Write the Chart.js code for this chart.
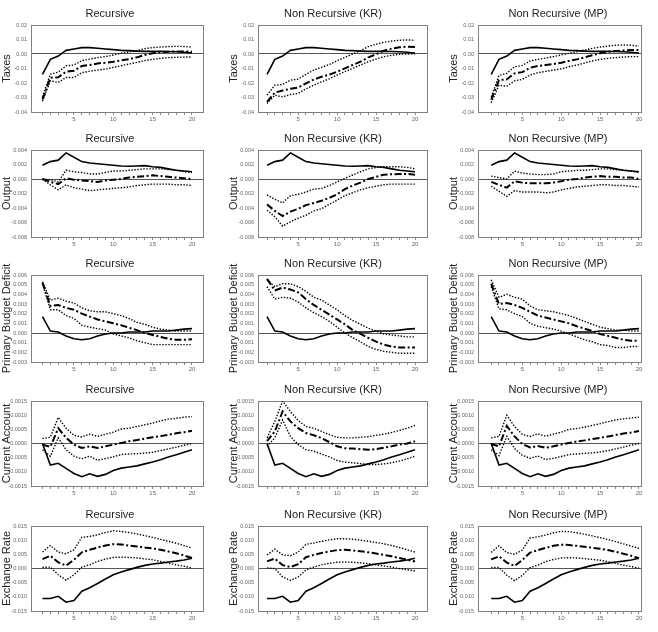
<!DOCTYPE html>
<html>
<head>
<meta charset="utf-8">
<script src="https://cdn.jsdelivr.net/npm/chart.js@4.4.1/dist/chart.umd.min.js"></script>
<style>
  body { margin: 0; background: #fff; }
  #sheet { position: relative; width: 658px; height: 632px; overflow: hidden; }
  #sheet canvas { position: absolute; }
</style>
</head>
<body>
<div id="sheet"></div>
<script>
const periods = [1, 2, 3, 4, 5, 6, 7, 8, 9, 10, 11, 12, 13, 14, 15, 16, 17, 18, 19, 20];
const columnTitles = ['Recursive', 'Non Recursive (KR)', 'Non Recursive (MP)'];

// Taxes
const taxesBase = [-0.014, -0.0037, -0.0014, 0.0025, 0.0035, 0.0044, 0.0044, 0.004, 0.0035, 0.003, 0.0025, 0.0023, 0.002, 0.0018, 0.0018, 0.0018, 0.0017, 0.0016, 0.0012, 0.0007];
const taxesRecMid = [-0.0314, -0.0164, -0.016, -0.0122, -0.0115, -0.0083, -0.0076, -0.0065, -0.006, -0.0053, -0.0044, -0.0035, -0.0023, -0.0007, 0.0005, 0.0012, 0.0016, 0.0018, 0.0018, 0.0016];
const taxesRecHi = [-0.0296, -0.0139, -0.0125, -0.0081, -0.0076, -0.0046, -0.0035, -0.0025, -0.0018, -0.0007, 0.0005, 0.0014, 0.0023, 0.0037, 0.0044, 0.0048, 0.0051, 0.0053, 0.0052, 0.0048];
const taxesRecLo = [-0.0326, -0.0185, -0.0196, -0.0162, -0.0162, -0.0129, -0.0118, -0.0111, -0.0104, -0.0092, -0.0081, -0.0069, -0.0058, -0.0046, -0.0037, -0.003, -0.0025, -0.0023, -0.0021, -0.0021];
const taxesKrMid = [-0.033, -0.0266, -0.0252, -0.024, -0.0231, -0.0203, -0.0176, -0.0157, -0.0143, -0.0122, -0.0099, -0.0076, -0.0053, -0.0023, -0.0002, 0.0023, 0.0037, 0.0046, 0.0051, 0.0048];
const taxesKrHi = [-0.0284, -0.0215, -0.021, -0.018, -0.0173, -0.0141, -0.0111, -0.0092, -0.0072, -0.0046, -0.0023, 0, 0.0023, 0.0051, 0.0067, 0.0081, 0.009, 0.0095, 0.0097, 0.0095];
const taxesKrLo = [-0.0342, -0.0284, -0.0296, -0.0279, -0.0272, -0.024, -0.0215, -0.0192, -0.0171, -0.0145, -0.0122, -0.0099, -0.0076, -0.0053, -0.0035, -0.0018, -0.0009, -0.0002, 0, 0.0002];
const taxesMpMid = [-0.0314, -0.018, -0.0175, -0.0134, -0.0125, -0.0095, -0.0083, -0.0076, -0.0069, -0.006, -0.0048, -0.0037, -0.0023, -0.0009, 0.0005, 0.0014, 0.0021, 0.0025, 0.0028, 0.0028];
const taxesMpHi = [-0.0296, -0.0148, -0.0134, -0.0088, -0.0079, -0.0048, -0.0037, -0.0028, -0.0018, -0.0007, 0.0005, 0.0016, 0.0028, 0.0039, 0.0048, 0.0055, 0.006, 0.0062, 0.006, 0.0055];
const taxesMpLo = [-0.0337, -0.0215, -0.0222, -0.0185, -0.0175, -0.0145, -0.0129, -0.012, -0.0111, -0.0102, -0.0088, -0.0076, -0.0062, -0.0048, -0.0037, -0.003, -0.0025, -0.0021, -0.0018, -0.0018];

// Output
const outputBase = [0.0019, 0.0024, 0.0026, 0.0036, 0.003, 0.0024, 0.0022, 0.0021, 0.002, 0.0019, 0.0018, 0.00175, 0.0018, 0.00185, 0.0017, 0.0016, 0.0014, 0.0012, 0.0011, 0.001];
const outputRecMid = [0, -0.0004, -0.0007, 0.0001, -0.0001, -0.0002, -0.0003, -0.0004, -0.0002, -0.0001, 0, 0.0002, 0.0003, 0.0004, 0.0005, 0.0004, 0.0003, 0.0002, 0.0001, 0];
const outputRecHi = [0, -0.0001, -0.0004, 0.0012, 0.001, 0.0009, 0.0007, 0.0007, 0.0009, 0.0011, 0.0011, 0.0012, 0.0013, 0.0014, 0.0014, 0.0014, 0.0013, 0.0012, 0.001, 0.0009];
const outputRecLo = [0, -0.0008, -0.0015, -0.0008, -0.0012, -0.0014, -0.0016, -0.0015, -0.0014, -0.0013, -0.0012, -0.0011, -0.0009, -0.0008, -0.0007, -0.0007, -0.0007, -0.0008, -0.0008, -0.0009];
const outputKrMid = [-0.0035, -0.0044, -0.0051, -0.0045, -0.0041, -0.0036, -0.0033, -0.003, -0.0026, -0.0021, -0.0014, -0.0009, -0.0005, 0, 0.0003, 0.0006, 0.00065, 0.0007, 0.0007, 0.0006];
const outputKrHi = [-0.0022, -0.0028, -0.0033, -0.0023, -0.0021, -0.0018, -0.0014, -0.0013, -0.0009, -0.0004, 0.0001, 0.00055, 0.001, 0.0014, 0.0016, 0.0017, 0.0017, 0.0017, 0.0016, 0.0014];
const outputKrLo = [-0.0043, -0.0052, -0.0065, -0.0059, -0.0054, -0.005, -0.0044, -0.0041, -0.0035, -0.0029, -0.0023, -0.0019, -0.0015, -0.0012, -0.001, -0.0008, -0.0007, -0.0007, -0.0007, -0.0007];
const outputMpMid = [-0.0004, -0.0008, -0.0012, -0.0003, -0.0005, -0.0006, -0.0006, -0.0006, -0.0005, -0.0003, -0.0001, 0, 0.0002, 0.0003, 0.0004, 0.0003, 0.0003, 0.0002, 0.0002, 0];
const outputMpHi = [0.0004, 0.0002, 0, 0.0011, 0.0008, 0.0007, 0.0006, 0.0006, 0.0007, 0.001, 0.0011, 0.0012, 0.0012, 0.0013, 0.0014, 0.0014, 0.0013, 0.0012, 0.0011, 0.0009];
const outputMpLo = [-0.001, -0.0017, -0.0024, -0.0016, -0.0018, -0.0018, -0.0018, -0.0019, -0.0018, -0.0015, -0.0013, -0.0011, -0.001, -0.0009, -0.0008, -0.0008, -0.0009, -0.0009, -0.001, -0.0011];

// Primary Budget Deficit
const deficitBase = [0.0017, 0.0002, 0.0001, -0.0003, -0.0006, -0.0007, -0.0006, -0.0003, -0.0001, 0, 0, 0.0001, 0.0001, 0.0001, 0.0002, 0.0002, 0.0002, 0.0003, 0.0004, 0.00045];
const deficitRecMid = [0.0052, 0.0028, 0.0029, 0.0026, 0.0024, 0.002, 0.0017, 0.0014, 0.0012, 0.001, 0.0008, 0.00055, 0.0003, 0, -0.0002, -0.0004, -0.0006, -0.0007, -0.0007, -0.00065];
const deficitRecHi = [0.0053, 0.0034, 0.0036, 0.0033, 0.0031, 0.0026, 0.0023, 0.0022, 0.0022, 0.002, 0.0018, 0.0015, 0.0011, 0.0009, 0.0006, 0.0004, 0.0003, 0.0002, 0.0002, 0.0002];
const deficitRecLo = [0.0051, 0.0024, 0.0024, 0.0018, 0.0015, 0.0008, 0.0006, 0.00045, 0.0003, -0.0001, -0.0003, -0.0005, -0.0008, -0.001, -0.0012, -0.0012, -0.0012, -0.0012, -0.0012, -0.0012];
const deficitKrMid = [0.0056, 0.0044, 0.0047, 0.0045, 0.0042, 0.0035, 0.0029, 0.0024, 0.0019, 0.0014, 0.0009, 0.0003, -0.0001, -0.0005, -0.0009, -0.0012, -0.0014, -0.0015, -0.0015, -0.0015];
const deficitKrHi = [0.0055, 0.0048, 0.0051, 0.0051, 0.0048, 0.0043, 0.0037, 0.0034, 0.0029, 0.0024, 0.0018, 0.0013, 0.0009, 0.0005, 0.0002, -0.0001, -0.0002, -0.0003, -0.0004, -0.0004];
const deficitKrLo = [0.0048, 0.0035, 0.0037, 0.0036, 0.0032, 0.0026, 0.0021, 0.0017, 0.0012, 0.0006, 0, -0.0005, -0.0009, -0.0014, -0.0017, -0.0019, -0.002, -0.0021, -0.0021, -0.0021];
const deficitMpMid = [0.0051, 0.003, 0.0031, 0.0029, 0.0026, 0.0022, 0.0018, 0.0016, 0.0014, 0.0012, 0.001, 0.0007, 0.00045, 0.0002, -0.0001, -0.0003, -0.0005, -0.0007, -0.0008, -0.0008];
const deficitMpHi = [0.0055, 0.0037, 0.004, 0.0037, 0.0035, 0.0028, 0.0024, 0.0023, 0.0022, 0.002, 0.0018, 0.0015, 0.0012, 0.0009, 0.0006, 0.00045, 0.0003, 0.0003, 0.0002, 0.0002];
const deficitMpLo = [0.0048, 0.0025, 0.0024, 0.002, 0.0017, 0.001, 0.0007, 0.00055, 0.0004, 0.0002, -0.0001, -0.0004, -0.0007, -0.0009, -0.0012, -0.0013, -0.0015, -0.0015, -0.0014, -0.0014];

// Current Account
const accountBase = [0, -0.00076, -0.0007, -0.00088, -0.00106, -0.00117, -0.00107, -0.00116, -0.00109, -0.00095, -0.00087, -0.00083, -0.00079, -0.00072, -0.00065, -0.00057, -0.00048, -0.0004, -0.00031, -0.00022];
const accountRecMid = [-0.00004, -0.00012, 0.00054, 0.0002, -0.00004, -0.00016, -0.0001, -0.00016, -0.0001, -0.00004, 0.00002, 0.00008, 0.00012, 0.00017, 0.00022, 0.00026, 0.00031, 0.00036, 0.0004, 0.00045];
const accountRecHi = [0.00017, 0.00022, 0.00092, 0.00054, 0.00029, 0.00023, 0.00033, 0.00025, 0.00033, 0.0004, 0.00051, 0.00054, 0.0006, 0.00066, 0.00072, 0.0008, 0.00086, 0.00089, 0.00093, 0.00095];
const accountRecLo = [-0.00022, -0.00045, 0.0002, -0.00022, -0.00045, -0.00054, -0.00045, -0.00059, -0.00053, -0.00047, -0.00039, -0.00037, -0.00036, -0.00034, -0.00031, -0.00025, -0.00019, -0.00013, -0.00006, 0];
const accountKrMid = [0.00008, 0.00043, 0.00113, 0.00078, 0.00054, 0.00037, 0.00029, 0.00019, 0.00005, -0.0001, -0.00017, -0.00018, -0.0002, -0.00022, -0.0002, -0.00015, -0.0001, -0.00004, 0, 0.00008];
const accountKrHi = [0.0002, 0.00078, 0.0015, 0.00113, 0.00081, 0.0006, 0.00054, 0.00043, 0.00031, 0.00022, 0.0002, 0.0002, 0.00022, 0.00024, 0.00029, 0.00033, 0.00039, 0.00046, 0.00054, 0.00064];
const accountKrLo = [-0.0001, 0.0002, 0.00083, 0.00025, -0.00004, -0.00022, -0.00027, -0.00037, -0.00047, -0.0006, -0.00066, -0.00068, -0.00071, -0.00074, -0.00074, -0.00072, -0.00068, -0.00062, -0.00054, -0.00045];
const accountMpMid = [-0.00002, -0.0001, 0.00062, 0.00025, -0.00002, -0.00014, -0.00009, -0.00015, -0.0001, -0.00004, 0.00002, 0.00007, 0.00011, 0.00016, 0.0002, 0.00025, 0.0003, 0.00035, 0.00039, 0.00044];
const accountMpHi = [0.0002, 0.00025, 0.001, 0.0006, 0.00032, 0.00025, 0.00034, 0.00026, 0.00033, 0.0004, 0.0005, 0.00053, 0.00058, 0.00064, 0.0007, 0.00077, 0.00083, 0.00087, 0.0009, 0.00093];
const accountMpLo = [-0.00022, -0.00043, 0.00025, -0.00018, -0.00042, -0.00052, -0.00044, -0.00057, -0.00052, -0.00046, -0.00039, -0.00037, -0.00035, -0.00033, -0.0003, -0.00025, -0.00019, -0.00013, -0.00006, 0];

// Exchange Rate
const rateBase = [-0.0106, -0.0106, -0.0098, -0.0119, -0.0113, -0.008, -0.0068, -0.0053, -0.0037, -0.0022, -0.0012, -0.0004, 0.0004, 0.0011, 0.0016, 0.0019, 0.0023, 0.0026, 0.003, 0.0036];
const rateRecMid = [0.0033, 0.0045, 0.0022, 0.001, 0.0031, 0.0057, 0.0066, 0.0074, 0.0081, 0.0086, 0.0085, 0.0081, 0.0078, 0.0074, 0.0071, 0.0066, 0.006, 0.0054, 0.0046, 0.0037];
const rateRecHi = [0.0058, 0.0081, 0.0058, 0.0052, 0.0066, 0.011, 0.0113, 0.0119, 0.0127, 0.0133, 0.0131, 0.0127, 0.0122, 0.0116, 0.011, 0.0103, 0.0096, 0.0089, 0.0081, 0.0072];
const rateRecLo = [0.0004, 0.0005, -0.0022, -0.0041, -0.0022, 0.0005, 0.0013, 0.0025, 0.0033, 0.0039, 0.004, 0.0039, 0.0037, 0.0034, 0.0031, 0.0025, 0.0019, 0.0013, 0.0008, 0.0002];
const rateKrMid = [0.0025, 0.0035, 0.0012, 0.0005, 0.0015, 0.004, 0.0048, 0.0055, 0.006, 0.0065, 0.0066, 0.0064, 0.0061, 0.0057, 0.0053, 0.0048, 0.0043, 0.0037, 0.0031, 0.0025];
const rateKrHi = [0.0048, 0.0068, 0.0048, 0.0045, 0.0058, 0.0085, 0.009, 0.0096, 0.0101, 0.0105, 0.0105, 0.0103, 0.01, 0.0096, 0.0092, 0.0087, 0.0081, 0.0074, 0.0066, 0.0058];
const rateKrLo = [0.0002, 0, -0.003, -0.0042, -0.003, -0.0005, 0.0005, 0.0013, 0.0018, 0.0022, 0.0023, 0.0022, 0.002, 0.0017, 0.0013, 0.0009, 0.0005, 0, -0.0004, -0.0009];
const rateMpMid = [0.0032, 0.0043, 0.0021, 0.0009, 0.003, 0.0056, 0.0065, 0.0073, 0.008, 0.0084, 0.0083, 0.008, 0.0077, 0.0073, 0.007, 0.0065, 0.0059, 0.0052, 0.0045, 0.0036];
const rateMpHi = [0.0057, 0.008, 0.0056, 0.005, 0.0065, 0.0108, 0.0112, 0.0118, 0.0126, 0.0131, 0.013, 0.0126, 0.0121, 0.0115, 0.0109, 0.0102, 0.0095, 0.0087, 0.0079, 0.0071];
const rateMpLo = [0.0003, 0.0004, -0.0024, -0.0043, -0.0024, 0.0003, 0.0012, 0.0024, 0.0032, 0.0037, 0.0038, 0.0037, 0.0035, 0.0032, 0.0029, 0.0024, 0.0018, 0.0012, 0.0007, 0.0001];

// one row per variable, columns follow columnTitles
const rows = [
    { label: 'Taxes', min: -0.04, max: 0.02, step: 0.01, decimals: 2, base: taxesBase,
      mid: [taxesRecMid, taxesKrMid, taxesMpMid], hi: [taxesRecHi, taxesKrHi, taxesMpHi], lo: [taxesRecLo, taxesKrLo, taxesMpLo] },
    { label: 'Output', min: -0.008, max: 0.004, step: 0.002, decimals: 3, base: outputBase,
      mid: [outputRecMid, outputKrMid, outputMpMid], hi: [outputRecHi, outputKrHi, outputMpHi], lo: [outputRecLo, outputKrLo, outputMpLo] },
    { label: 'Primary Budget Deficit', min: -0.003, max: 0.006, step: 0.001, decimals: 3, base: deficitBase,
      mid: [deficitRecMid, deficitKrMid, deficitMpMid], hi: [deficitRecHi, deficitKrHi, deficitMpHi], lo: [deficitRecLo, deficitKrLo, deficitMpLo] },
    { label: 'Current Account', min: -0.0015, max: 0.0015, step: 0.0005, decimals: 4, base: accountBase,
      mid: [accountRecMid, accountKrMid, accountMpMid], hi: [accountRecHi, accountKrHi, accountMpHi], lo: [accountRecLo, accountKrLo, accountMpLo] },
    { label: 'Exchange Rate', min: -0.015, max: 0.015, step: 0.005, decimals: 3, base: rateBase,
      mid: [rateRecMid, rateKrMid, rateMpMid], hi: [rateRecHi, rateKrHi, rateMpHi], lo: [rateRecLo, rateKrLo, rateMpLo] }
];

// page placement of each plot box
const colBoxes = [
    { left: 31, right: 203, titleX: 110, xMin: -0.46, xMax: 21.4 },
    { left: 258, right: 427, titleX: 333, xMin: -0.16, xMax: 21.54 },
    { left: 478, right: 641, titleX: 558, xMin: -0.7, xMax: 20.26 }
];
const rowBoxes = [
    { top: 25, bottom: 112 },
    { top: 150, bottom: 237 },
    { top: 275, bottom: 362 },
    { top: 401, bottom: 486 },
    { top: 526, bottom: 611 }
];

const Y_AXIS_W = 32, TITLE_H = 25, X_AXIS_H = 14;
const TICK_COLOR = '#666';

const framePlugin = {
    id: 'frame',
    beforeDatasetsDraw(chart) {
        const { ctx, chartArea: a } = chart;
        ctx.save();
        ctx.strokeStyle = '#808080';
        ctx.lineWidth = 1;
        ctx.strokeRect(Math.round(a.left) + 0.5, Math.round(a.top) + 0.5,
            Math.round(a.right - a.left), Math.round(a.bottom - a.top));
        ctx.restore();
    }
};

const toPoints = values => periods.map((p, i) => ({ x: p, y: values[i] }));

function line(values, kind) {
    const ds = { data: toPoints(values), borderColor: '#000', pointRadius: 0, tension: 0, fill: false };
    if (kind === 'solid') { ds.borderWidth = 1.6; }
    if (kind === 'dashdot') { ds.borderWidth = 2; ds.borderDash = [7, 2.5, 2, 2.5]; }
    if (kind === 'dotted') { ds.borderWidth = 1.4; ds.borderDash = [1.4, 1.6]; }
    return ds;
}

function makePanel(r, c) {
    const row = rows[r], col = colBoxes[c], rb = rowBoxes[r];
    const left = col.left - Y_AXIS_W;
    const width = Math.round(2 * (col.titleX - left));
    const rightW = width - Y_AXIS_W - (col.right - col.left);
    const height = TITLE_H + (rb.bottom - rb.top) + X_AXIS_H + 2;

    const canvas = document.createElement('canvas');
    canvas.width = width;
    canvas.height = height;
    canvas.style.left = left + 'px';
    canvas.style.top = (rb.top - TITLE_H) + 'px';
    canvas.style.width = width + 'px';
    canvas.style.height = height + 'px';
    document.getElementById('sheet').appendChild(canvas);

    new Chart(canvas.getContext('2d'), {
        type: 'line',
        data: {
            datasets: [
                line(row.hi[c], 'dotted'),
                line(row.lo[c], 'dotted'),
                line(row.mid[c], 'dashdot'),
                line(row.base, 'solid')
            ]
        },
        options: {
            responsive: false,
            animation: false,
            devicePixelRatio: 1,
            layout: { padding: { left: 0, right: 0, top: 0, bottom: 2 } },
            plugins: {
                legend: { display: false },
                tooltip: { enabled: false },
                title: {
                    display: true,
                    text: columnTitles[c],
                    color: '#222',
                    font: { family: "'Liberation Sans Narrow', 'Arial Narrow', 'Liberation Sans', sans-serif", size: 11, weight: 'normal' },
                    padding: { top: 7.4, bottom: 4.4 }
                }
            },
            scales: {
                x: {
                    type: 'linear',
                    min: col.xMin,
                    max: col.xMax,
                    afterBuildTicks: s => { s.ticks = s.ticks.filter(t => t.value >= 1 && t.value <= 20); },
                    afterFit: s => { s.height = X_AXIS_H; },
                    ticks: {
                        stepSize: 1,
                        includeBounds: false,
                        autoSkip: false,
                        maxRotation: 0,
                        padding: 1,
                        color: TICK_COLOR,
                        font: { family: "'Liberation Sans', Arial, sans-serif", size: 6 },
                        callback: v => (v % 5 === 0 ? String(v) : '')
                    },
                    grid: { display: true, drawOnChartArea: false, drawTicks: true, tickLength: 3, color: '#888' },
                    border: { display: false }
                },
                y: {
                    min: row.min,
                    max: row.max,
                    afterFit: s => { s.width = Y_AXIS_W; },
                    ticks: {
                        stepSize: row.step,
                        autoSkip: false,
                        padding: 4,
                        color: TICK_COLOR,
                        font: { family: "'Liberation Sans', Arial, sans-serif", size: 5.5 },
                        callback: v => v.toFixed(row.decimals)
                    },
                    grid: {
                        drawTicks: false,
                        lineWidth: 1,
                        color: ctx => (ctx.tick && Math.abs(ctx.tick.value) < 1e-12 ? '#555' : 'rgba(0,0,0,0)')
                    },
                    border: { display: false },
                    title: {
                        display: true,
                        text: row.label,
                        color: '#222',
                        font: { family: "'Liberation Sans', Arial, sans-serif", size: 11 },
                        padding: { top: 1, bottom: 0 }
                    }
                },
                // empty strip on the right so the title sits where the original puts it
                side: {
                    position: 'right',
                    display: true,
                    afterFit: s => { s.width = rightW; },
                    ticks: { display: false },
                    grid: { display: false },
                    border: { display: false }
                }
            }
        },
        plugins: [framePlugin]
    });
}

for (let r = 0; r < rows.length; r++) {
    for (let c = 0; c < columnTitles.length; c++) {
        makePanel(r, c);
    }
}
</script>
</body>
</html>
